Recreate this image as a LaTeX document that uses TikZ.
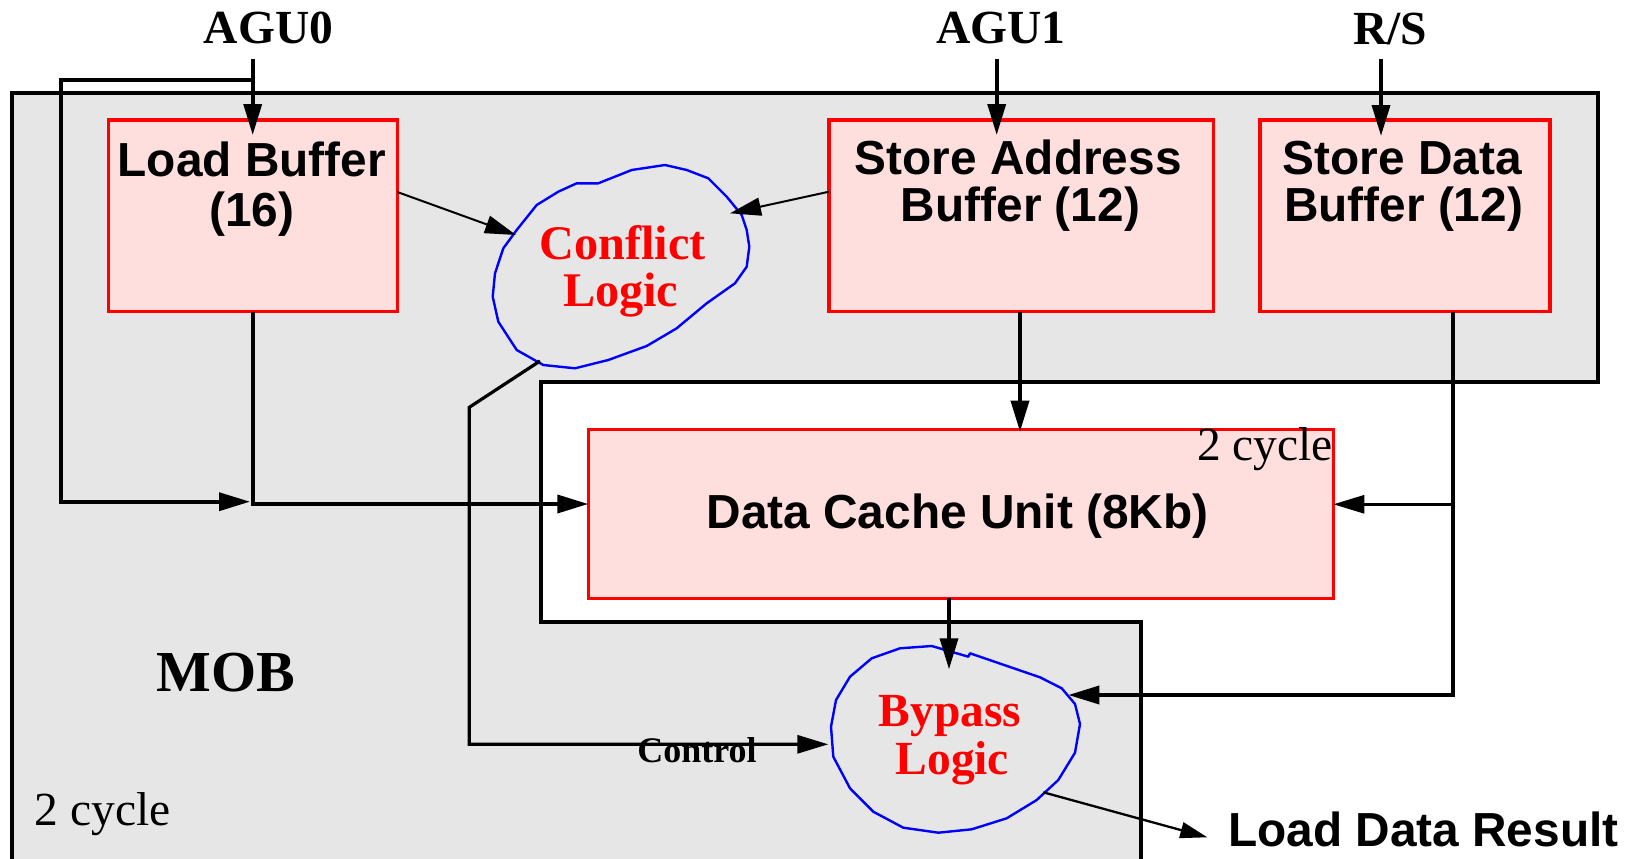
\documentclass[tikz,border=0pt]{standalone}
\usepackage{fontspec}
\setmainfont{Liberation Serif}
\newfontfamily\helv{Liberation Sans}
\usetikzlibrary{arrows.meta}

\definecolor{mobgray}{RGB}{230,230,230}
\definecolor{bufpink}{RGB}{255,222,222}
\definecolor{unitred}{RGB}{255,0,0}
\definecolor{logicblue}{RGB}{0,0,255}

\tikzset{
  x=1pt, y=-1pt,
  unitbox/.style={draw=unitred, fill=bufpink, line width=3.5pt,
    inner sep=0pt, outer sep=0pt, anchor=north west},
  unittext/.style={font=\helv\bfseries\fontsize{47.8}{50}\selectfont,
    anchor=base, inner sep=0pt},
  logictext/.style={font=\bfseries\fontsize{48.3}{48}\selectfont,
    text=unitred, anchor=base, inner sep=0pt},
  portlabel/.style={font=\bfseries\fontsize{47.5}{48}\selectfont,
    anchor=base, inner sep=0pt},
  cyclelabel/.style={font=\fontsize{47.5}{48}\selectfont,
    anchor=base, inner sep=0pt},
  blob/.style={draw=logicblue, line width=2.4pt, line join=round},
  frame/.style={draw=black, fill=mobgray, line width=4pt},
  heavy/.style={draw=black, line width=3.6pt},
  light/.style={draw=black, line width=2pt},
  tip/.style={-{Triangle[length=31pt,width=18pt]}},
}

\begin{document}
\begin{tikzpicture}
\path[use as bounding box] (0,0) rectangle (1631,859);
\clip (0,0) rectangle (1631,859);

% MOB region with the cut-out around the data cache
\path[frame] (12.3,92.7) -- (1597.5,92.7) -- (1597.5,381.7) -- (540.7,381.7)
  -- (540.7,622) -- (1141,622) -- (1141,880) -- (12.3,880) -- cycle;

% port labels
\node[portlabel] (agu0) at (268.5,44) {AGU0};
\node[portlabel] (agu1) at (1000.8,44) {AGU1};
\node[portlabel] (rs)   at (1390,44.5) {R/S};

% buffers and cache
\node[unitbox, minimum width=289pt, minimum height=191.7pt] (lb) at (108.3,120) {};
\node[unitbox, minimum width=384.3pt, minimum height=191.7pt] (sa) at (829,120) {};
\node[unitbox, minimum width=290pt, minimum height=191.7pt] (sd) at (1260,120) {};
\node[unitbox, minimum width=745pt, minimum height=169pt] (dcu) at (588.3,429.3) {};

\node[unittext] (lbt1) at (251.7,176.7) {Load Buffer};
\node[unittext] (lbt2) at (251.7,226.7) {(16)};
\node[unittext] (sat1) at (1018.3,174) {Store Address};
\node[unittext] (sat2) at (1020.5,221.7) {Buffer (12)};
\node[unittext] (sdt1) at (1402.2,174) {Store Data};
\node[unittext] (sdt2) at (1403.6,221.7) {Buffer (12)};
\node[unittext] (dcut) at (957.5,528.3) {Data Cache Unit (8Kb)};
\node[cyclelabel] (dcucyc) at (1265,460) {2 cycle};

% conflict logic
\draw[blob] (576.7,183.3) -- (598.3,183.3) -- (631.7,170) -- (665,165)
  -- (686.7,170) -- (708.3,178.3) -- (726.7,196.7) -- (741.7,215)
  -- (746.7,230) -- (749.3,246.7) -- (746.7,266.7) -- (735,283.3)
  -- (706.7,303.3) -- (676.7,328.3) -- (646.7,346) -- (608.3,360)
  -- (575,368.3) -- (543.3,365) -- (516.7,350) -- (498.3,321.7)
  -- (492.7,296.7) -- (495,273.3) -- (503.3,248.3) -- (516.7,230)
  -- (536.7,205) -- (558.3,191.7) -- cycle;
\node[logictext] (cl1) at (622.5,259.3) {Conflict};
\node[logictext] (cl2) at (620.7,306.7) {Logic};

% bypass logic
\draw[blob] (900,648.3) -- (931.7,646) -- (968.3,656.7) -- (970,653.3)
  -- (1040,677.3) -- (1061.7,688.3) -- (1075,704) -- (1080,724)
  -- (1075,752.7) -- (1058.3,780) -- (1036.7,800) -- (1006.7,818.3)
  -- (971.7,829.3) -- (938.3,832.7) -- (903.3,827.7) -- (873.3,811.7)
  -- (850,788.3) -- (833.3,756.7) -- (831,726.7) -- (836,700)
  -- (850,676.7) -- (871.7,658.3) -- cycle;
\node[logictext, font=\bfseries\fontsize{47.5}{48}\selectfont] (bl1) at (950,726.7) {Bypass};
\node[logictext, font=\bfseries\fontsize{47.5}{48}\selectfont] (bl2) at (952.3,774) {Logic};

% other labels
\node[portlabel, font=\bfseries\fontsize{36}{38}\selectfont] (ctl) at (697,762) {Control};
\node[portlabel, font=\bfseries\fontsize{58}{60}\selectfont] (mob) at (225.8,691.7) {MOB};
\node[cyclelabel] (mobcyc) at (102.5,825) {2 cycle};
\node[unittext] (ldr) at (1423.3,846) {Load Data Result};

% connector end points
\coordinate (agu0src) at (252.7,59);
\coordinate (agu0tip) at (252.7,135);
\coordinate (loopa) at (252.7,80);
\coordinate (loopb) at (61,80);
\coordinate (loopc) at (61,501.7);
\coordinate (looptip) at (250,501.7);
\coordinate (lbout) at (252.7,311.7);
\coordinate (lbturn) at (252.7,504);
\coordinate (dcuinl) at (588.3,504);
\coordinate (lbcl) at (397.3,192);
\coordinate (cltipl) at (516,235);
\coordinate (sacl) at (829,191.7);
\coordinate (cltipr) at (730,213.3);
\coordinate (agu1src) at (996.7,59);
\coordinate (agu1tip) at (996.7,135);
\coordinate (rssrc) at (1381,59);
\coordinate (rstip) at (1381,136);
\coordinate (saout) at (1020,311.7);
\coordinate (dcuint) at (1020,431.7);
\coordinate (sdout) at (1453,311.7);
\coordinate (sdjoin) at (1453,504.3);
\coordinate (dcuinr) at (1333.3,504.3);
\coordinate (sdturn) at (1453,695);
\coordinate (bltipr) at (1068.3,695);
\coordinate (dcuout) at (949,598.3);
\coordinate (bltipt) at (949,669.3);
\coordinate (clout) at (540,361);
\coordinate (ctla) at (469.3,407.3);
\coordinate (ctlb) at (469.3,744.3);
\coordinate (bltipl) at (828.3,744.3);
\coordinate (blout) at (1043.3,792.3);
\coordinate (ldrtip) at (1207.3,837.3);

% connectors
\draw[heavy, tip] (agu0src) -- (agu0tip);
\draw[heavy, tip] (loopa) -- (loopb) -- (loopc) -- (looptip);
\draw[heavy, tip] (lbout) -- (lbturn) -- (dcuinl);
\draw[light, tip] (lbcl) -- (cltipl);
\draw[light, tip] (sacl) -- (cltipr);
\draw[heavy, tip] (agu1src) -- (agu1tip);
\draw[heavy, tip] (rssrc) -- (rstip);
\draw[heavy, tip] (saout) -- (dcuint);
\draw[heavy, tip] (sdout) -- (sdturn) -- (bltipr);
\draw[heavy, line width=2.8pt, tip] (sdjoin) -- (dcuinr);
\draw[heavy, tip] (dcuout) -- (bltipt);
\draw[heavy, line width=3.2pt, tip] (clout) -- (ctla) -- (ctlb) -- (bltipl);
\draw[light, line width=2.3pt, -{Triangle[length=27pt,width=16pt]}] (blout) -- (ldrtip);
\end{tikzpicture}
\end{document}
